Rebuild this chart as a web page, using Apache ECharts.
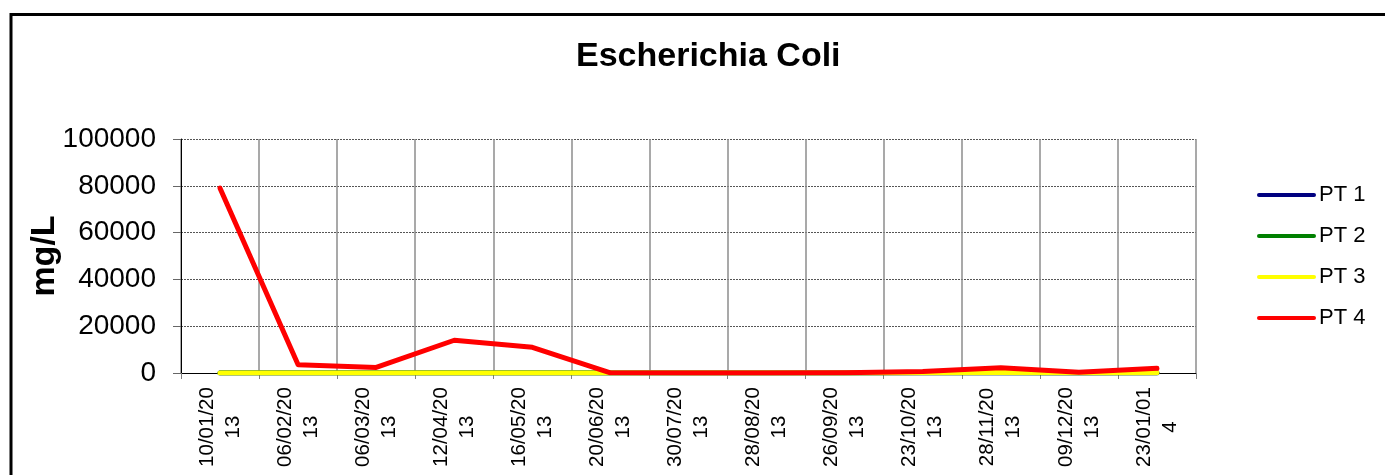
<!DOCTYPE html>
<html>
<head>
<meta charset="utf-8">
<script src="https://cdn.jsdelivr.net/npm/echarts@6/dist/echarts.min.js"></script>
<style>
  html, body { margin: 0; padding: 0; background: #fff; }
  #chart { width: 1385px; height: 475px; }
</style>
</head>
<body>
<div id="chart"></div>
<script>
// ---- data ----
var categories = ['10/01/2013', '06/02/2013', '06/03/2013', '12/04/2013', '16/05/2013', '20/06/2013',
                  '30/07/2013', '28/08/2013', '26/09/2013', '23/10/2013', '28/11/2013', '09/12/2013', '23/01/014'];
var seriesNames = ['PT 1', 'PT 2', 'PT 3', 'PT 4'];
var pt1 = [0, 0, 0, 0, 0, 0, 0, 0, 0, 0, 0, 0, 0];
var pt2 = [0, 0, 0, 0, 0, 0, 0, 0, 0, 100, 150, 50, 100];
var pt3 = [0, 0, 0, 0, 0, 0, 0, 0, 0, 150, 200, 80, 150];
var pt4 = [79000, 3500, 2400, 14000, 11000, 100, 50, 50, 80, 600, 2200, 300, 2000];
var yTicks = [0, 20000, 40000, 60000, 80000, 100000];

var colors = ['#000080', '#008000', '#FFFF00', '#FF0000'];
var FONT = 'Liberation Sans, Arial, sans-serif';

function wrapLabel(s) {
  return s.length > 8 ? s.slice(0, 8) + '\n' + s.slice(8) : s;
}

var chart = echarts.init(document.getElementById('chart'), null, { renderer: 'canvas' });

var allData = [pt1, pt2, pt3, pt4];
var series = seriesNames.map(function (name, i) {
  return {
    name: name,
    type: 'line',
    data: allData[i],
    symbol: 'none',
    smooth: false,
    lineStyle: { color: colors[i], width: 5, cap: 'round', join: 'round' },
    itemStyle: { color: colors[i] },
    z: 2 + i
  };
});

var option = {
  backgroundColor: '#ffffff',
  animation: false,
  textStyle: { fontFamily: FONT, color: '#000' },
  title: {
    text: 'Escherichia Coli',
    left: 576,
    top: 40,
    padding: 0,
    textStyle: { fontFamily: FONT, fontSize: 34, fontWeight: 'bold', color: '#000' }
  },
  graphic: [{
    type: 'rect',
    shape: { x: 11, y: 14.5, width: 1600, height: 700 },
    style: { fill: 'none', stroke: '#000', lineWidth: 3 },
    silent: true
  }],
  legend: {
    orient: 'vertical',
    left: 1257,
    top: 184,
    padding: 0,
    itemWidth: 55,
    itemHeight: 20,
    itemGap: 19,
    data: seriesNames,
    textStyle: { fontFamily: FONT, fontSize: 22, color: '#000' },
    lineStyle: { width: 4, cap: 'round' },
    itemStyle: { opacity: 0 }
  },
  grid: { left: 181, right: 189, top: 139, bottom: 102, containLabel: false },
  xAxis: {
    type: 'category',
    data: categories,
    boundaryGap: true,
    axisLine: { show: true, lineStyle: { color: '#000', width: 1 } },
    axisTick: { show: true, length: 6, lineStyle: { color: '#808080', width: 1 } },
    splitLine: { show: true, lineStyle: { color: '#8c8c8c', width: 1.5 } },
    axisLabel: {
      rotate: 90,
      interval: 0,
      margin: 54,
      align: 'center',
      verticalAlign: 'middle',
      fontFamily: FONT,
      fontSize: 20.5,
      lineHeight: 26,
      color: '#000',
      formatter: wrapLabel
    }
  },
  yAxis: {
    type: 'value',
    min: yTicks[0],
    max: yTicks[yTicks.length - 1],
    interval: yTicks[1] - yTicks[0],
    name: 'mg/L',
    nameLocation: 'middle',
    nameRotate: 90,
    nameGap: 119,
    nameMoveOverlap: false,
    nameTextStyle: { fontFamily: FONT, fontSize: 34, fontWeight: 'bold', color: '#000' },
    axisLine: { show: true, lineStyle: { color: '#000', width: 1 } },
    axisTick: { show: true, length: 8, lineStyle: { color: '#666', width: 1 } },
    splitLine: { show: true, lineStyle: { color: '#555', width: 1, type: [2, 1] } },
    axisLabel: {
      margin: 25, fontFamily: FONT, fontSize: 28, color: '#000',
      formatter: function (v) { return String(v); }
    }
  },
  series: series
};

chart.setOption(option);
</script>
</body>
</html>
